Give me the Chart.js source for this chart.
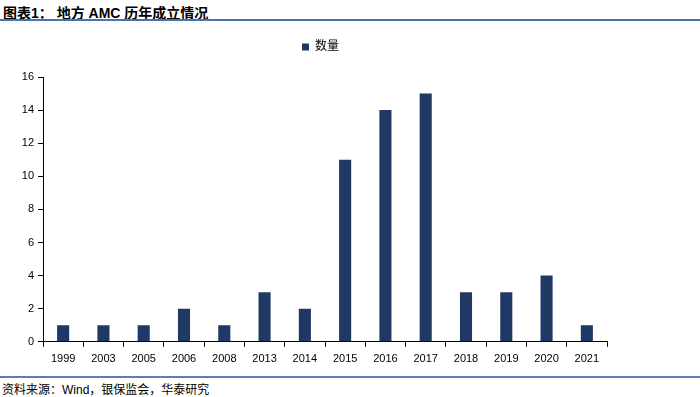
<!DOCTYPE html>
<html>
<head>
<meta charset="utf-8">
<script src="https://cdn.jsdelivr.net/npm/chart.js@4"></script>
<style>
html,body{margin:0;padding:0;background:#fff;width:700px;height:397px;overflow:hidden;}
#wrap{position:absolute;left:0;top:0;width:700px;height:397px;}
#title{position:absolute;left:3px;top:2px;font:bold 14px "Liberation Sans","Noto Sans CJK SC",sans-serif;color:#000;white-space:nowrap;}
#topline{position:absolute;left:0;top:19px;width:700px;height:2px;background:#4a72ae;}
#botline{position:absolute;left:0;top:376px;width:700px;height:2px;background:#5b7fb5;}
#foot{position:absolute;left:2px;top:380px;font:12px "Liberation Sans","Noto Sans CJK SC",sans-serif;color:#000;white-space:nowrap;}
#cv{position:absolute;left:0;top:22px;}
</style>
</head>
<body>
<div id="wrap">
<div id="title">图表1：  地方 AMC 历年成立情况</div>
<div id="topline"></div>
<canvas id="cv" width="700" height="350"></canvas>
<div id="botline"></div>
<div id="foot">资料来源：Wind，银保监会，华泰研究</div>
</div>
<script>
const categories = ['1999','2003','2005','2006','2008','2013','2014','2015','2016','2017','2018','2019','2020','2021'];
const seriesName = '数量';
const counts = [1,1,1,2,1,3,2,11,14,15,3,3,4,1];
const yTicks = [0,2,4,6,8,10,12,14,16];

const fontFam = '"Liberation Sans","Noto Sans CJK SC",sans-serif';
const legendGap = {
  id: 'legendGap',
  beforeInit(chart) {
    const origFit = chart.legend.fit;
    chart.legend.fit = function () {
      origFit.bind(chart.legend)();
      this.height += 14;
    };
  },
  afterLayout(chart) {
    // center legend over the plot area
    chart.legend.left = chart.chartArea.left - 9;
  }
};
new Chart(document.getElementById('cv'), {
  type: 'bar',
  data: {
    labels: categories,
    datasets: [{
      label: seriesName,
      data: counts,
      backgroundColor: '#1f3864',
      borderColor: '#1f3864',
      borderWidth: 0,
      barPercentage: 0.6,
      categoryPercentage: 0.5
    }]
  },
  plugins: [legendGap],
  options: {
    responsive: false,
    animation: false,
    devicePixelRatio: 1,
    layout: { padding: { left: 0, right: 93, top: 9, bottom: 0 } },
    plugins: {
      legend: {
        display: true,
        position: 'top',
        labels: {
          boxWidth: 7, boxHeight: 7, padding: 10,
          color: '#000',
          font: { family: fontFam, size: 12 }
        }
      },
      title: { display: false },
      tooltip: { enabled: false }
    },
    scales: {
      x: {
        offset: true,
        grid: { display: true, drawOnChartArea: false, offset: true, tickLength: 5, color: '#000', lineWidth: 1 },
        border: { display: true, color: '#000', width: 1 },
        ticks: { color: '#000', font: { family: fontFam, size: 11 }, maxRotation: 0, padding: 6 }
      },
      y: {
        min: 0, max: 16,
        afterBuildTicks: s => { s.ticks = yTicks.map(v => ({ value: v })); },
        afterFit: s => { s.width = 43; },
        grid: { display: true, drawOnChartArea: false, tickLength: 5, color: '#000', lineWidth: 1 },
        border: { display: true, color: '#000', width: 1 },
        ticks: { color: '#000', font: { family: fontFam, size: 11 }, padding: 4 }
      }
    }
  }
});
</script>
</body>
</html>
